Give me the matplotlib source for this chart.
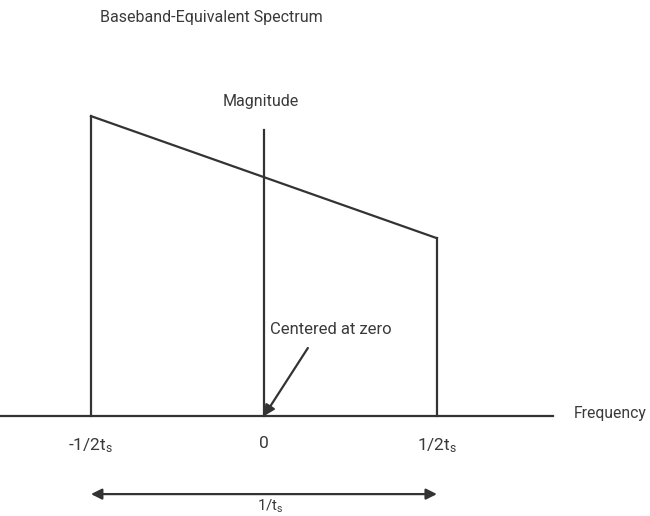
import matplotlib
matplotlib.use("Agg")
import matplotlib.pyplot as plt

plt.rcParams['font.family'] = ['Roboto', 'DejaVu Sans']
plt.rcParams['mathtext.fontset'] = 'custom'
plt.rcParams['mathtext.rm'] = 'Roboto'
plt.rcParams['mathtext.it'] = 'Roboto'

# spectrum, frequency in units of 1/ts, magnitude normalised to the left edge
band_freq = [-0.5, 0.5]
band_mag = [1.0, 0.593]
mag_axis_top = 0.953
freq_axis = [-0.763, 0.835]
tick_pos = [-0.5, 0.0, 0.5]
tick_labels = [r'-1/2$\mathregular{t_s}$', '0', r'1/2$\mathregular{t_s}$']

ink = '#333333'
txt = '#3a3a3a'

fig = plt.figure(figsize=(6.5, 5.16), dpi=100)
ax = fig.add_axes([0, 0, 1, 1])
ax.set_xlim(-0.763, 1.116)
ax.set_ylim(-0.333, 1.387)
ax.axis('off')

# frequency axis and magnitude axis
ax.plot(freq_axis, [0, 0], color=ink, lw=1.6)
ax.plot([0, 0], [0, mag_axis_top], color=ink, lw=1.6)

# band edges and sloped top
ax.plot([band_freq[0], band_freq[0]], [0, band_mag[0]], color=ink, lw=1.6)
ax.plot([band_freq[1], band_freq[1]], [0, band_mag[1]], color=ink, lw=1.6)
ax.plot(band_freq, band_mag, color=ink, lw=1.6)

ax.text(-0.474, 1.33, 'Baseband-Equivalent Spectrum', ha='left', va='center',
        fontsize=11.5, color=txt)
ax.text(-0.01, 1.05, 'Magnitude', ha='center', va='center', fontsize=11.5, color=txt)
ax.text(0.897, 0.01, 'Frequency', ha='left', va='center', fontsize=11.3, color=txt)

for p, lab in zip(tick_pos, tick_labels):
    ax.text(p, -0.068, lab, ha='center', va='top', fontsize=12.5, color=txt)

ax.annotate('', xy=(0, 0), xytext=(0.127, 0.227),
            arrowprops=dict(arrowstyle='-|>', color=ink, lw=1.6, mutation_scale=16,
                            shrinkA=0, shrinkB=0))
ax.text(0.017, 0.287, 'Centered at zero', ha='left', va='center', fontsize=12, color=txt)

ax.annotate('', xy=(band_freq[0], -0.26), xytext=(band_freq[1], -0.26),
            arrowprops=dict(arrowstyle='<|-|>', color=ink, lw=1.6, mutation_scale=16,
                            shrinkA=0, shrinkB=0))
ax.text(0.02, -0.272, r'1/$\mathregular{t_s}$', ha='center', va='top', fontsize=11, color=txt)

fig.savefig('out.png', dpi=100)
